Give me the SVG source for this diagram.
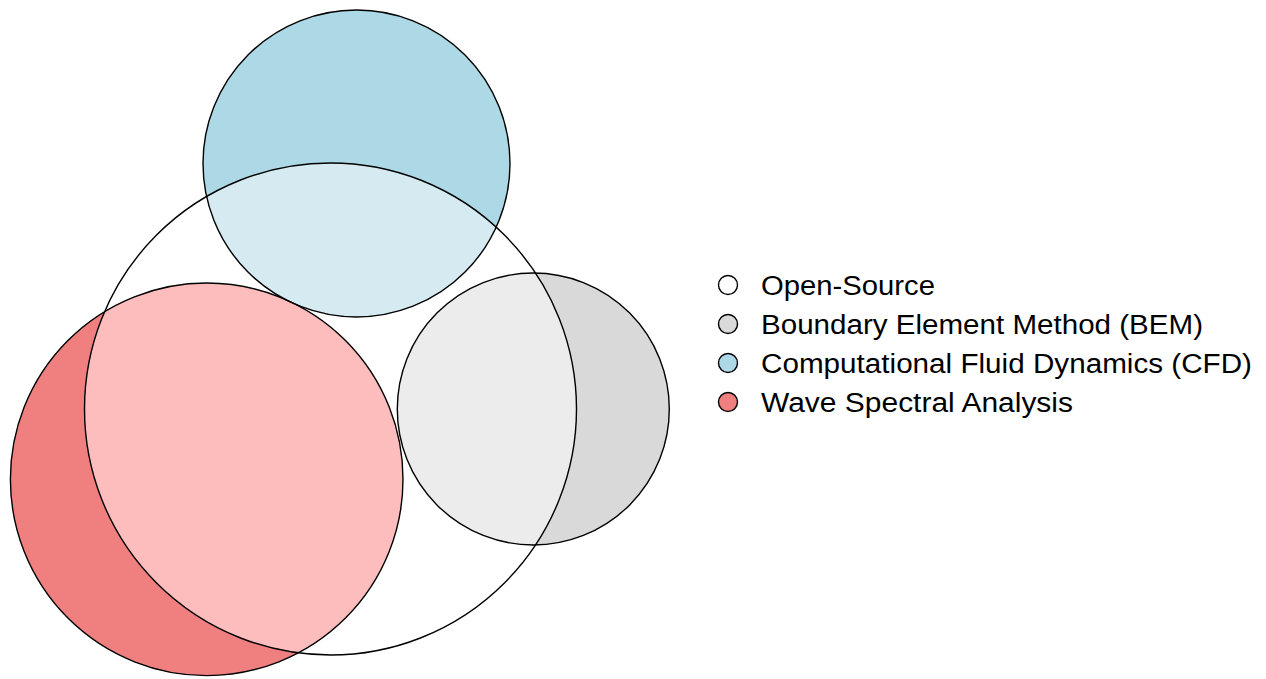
<svg xmlns="http://www.w3.org/2000/svg" width="1266" height="679" viewBox="0 0 1266 679">
<style>
.c{stroke:#000;stroke-width:1.4;}
.o{fill:none;stroke:#000;stroke-width:1.4;}
.t{font-family:"Liberation Sans",Arial,sans-serif;font-size:27px;fill:#000;}
</style>
<defs>
<clipPath id="osclip"><circle cx="330.5" cy="409" r="246"/></clipPath>
</defs>
<rect width="1266" height="679" fill="#fff"/>
<g id="fills">
<circle cx="356.5" cy="163.5" r="153.5" fill="#ADD8E6"/>
<circle cx="533.3" cy="409" r="136" fill="#D9D9D9"/>
<circle cx="206.7" cy="479.3" r="196.3" fill="#F08080"/>
<g clip-path="url(#osclip)">
<circle cx="356.5" cy="163.5" r="153.5" fill="#D6EBF1"/>
<circle cx="533.3" cy="409" r="136" fill="#ECECEC"/>
<circle cx="206.7" cy="479.3" r="196.3" fill="#FDBDBD"/>
</g>
</g>
<g id="open-source"><circle class="o" cx="330.5" cy="409" r="246"/></g>
<g id="cfd"><circle class="o" cx="356.5" cy="163.5" r="153.5"/></g>
<g id="bem"><circle class="o" cx="533.3" cy="409" r="136"/></g>
<g id="wave"><circle class="o" cx="206.7" cy="479.3" r="196.3"/></g>
<g id="legend">
<circle class="c" cx="728" cy="285" r="9.5" fill="#fff"/>
<text class="t" x="761" y="295" textLength="174" lengthAdjust="spacingAndGlyphs">Open-Source</text>
<circle class="c" cx="728" cy="324" r="9.5" fill="#D9D9D9"/>
<text class="t" x="761" y="334" textLength="442" lengthAdjust="spacingAndGlyphs">Boundary Element Method (BEM)</text>
<circle class="c" cx="728" cy="363" r="9.5" fill="#ADD8E6"/>
<text class="t" x="761" y="373" textLength="491" lengthAdjust="spacingAndGlyphs">Computational Fluid Dynamics (CFD)</text>
<circle class="c" cx="728" cy="402" r="9.5" fill="#F08080"/>
<text class="t" x="761" y="412" textLength="312" lengthAdjust="spacingAndGlyphs">Wave Spectral Analysis</text>
</g>
</svg>
